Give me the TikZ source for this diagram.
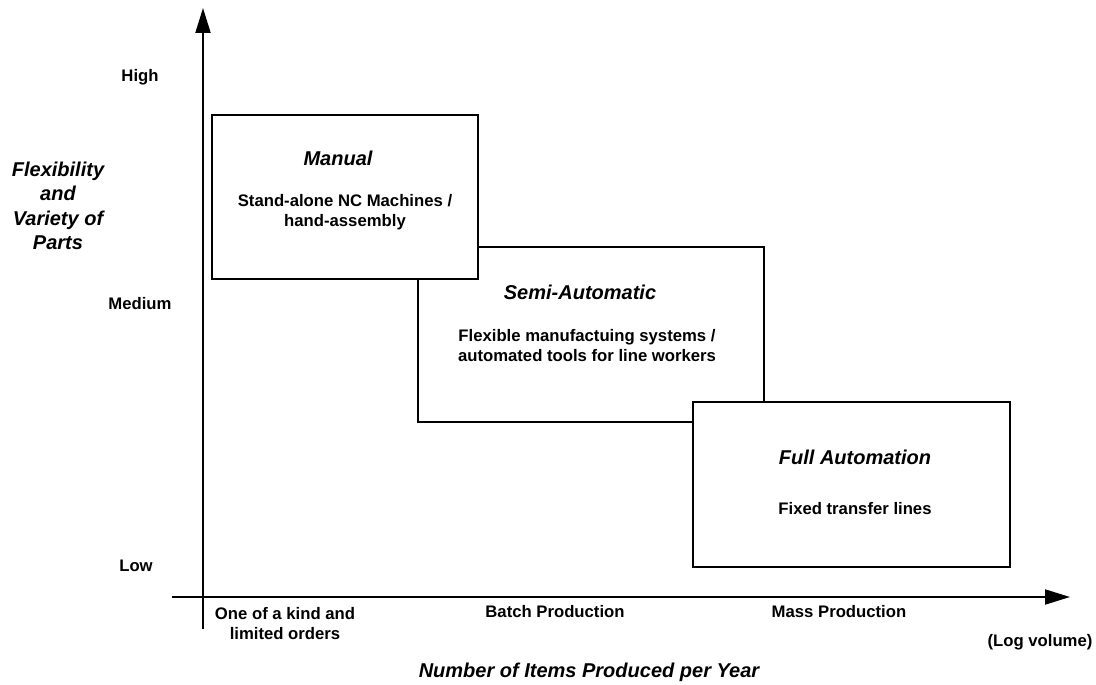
\documentclass[tikz,border=0pt]{standalone}
\usepackage{fontspec}
\setmainfont{Liberation Sans}
\usetikzlibrary{arrows.meta}
\begin{document}
\begin{tikzpicture}[x=1pt, y=-1pt,
  axis/.style={line width=2pt, -{Triangle[length=25pt, width=15pt]}},
  zone/.style={draw, line width=1.6pt, fill=white, inner sep=0pt},
  lbl/.style={font=\fontsize{16.7}{20}\selectfont\bfseries, align=center, inner sep=0pt},
  ttl/.style={font=\fontsize{20}{24.5}\selectfont\bfseries\itshape, align=center, inner sep=0pt}]
  \useasboundingbox (0,0) rectangle (1096,685);
  % axes
  \coordinate (yfoot) at (203,629);
  \coordinate (ytip) at (203,8);
  \coordinate (xfoot) at (172,597);
  \coordinate (xtip) at (1070,597);
  \draw[axis] (yfoot) -- (ytip);
  \draw[axis] (xfoot) -- (xtip);
  % zones
  \node[zone, minimum width=346pt, minimum height=175pt] (semi) at (591,334.5) {};
  \node[zone, minimum width=266pt, minimum height=164pt] (manual) at (345,197) {};
  \node[zone, minimum width=317pt, minimum height=165pt] (full) at (851.5,484.5) {};
  \node[ttl] (manualT) at (338,158) {Manual};
  \node[lbl] (manualB) at (345,212) {Stand-alone NC Machines /\\hand-assembly};
  \node[ttl] (semiT) at (580,292) {Semi-Automatic};
  \node[lbl] (semiB) at (587,346) {Flexible manufactuing systems /\\automated tools for line workers};
  \node[ttl] (fullT) at (855,457) {Full Automation};
  \node[lbl] (fullB) at (855,509) {Fixed transfer lines};
  % vertical scale
  \node[ttl] (flex) at (58,206) {Flexibility\\and\\Variety of\\Parts};
  \node[lbl] (high) at (140,77) {High};
  \node[lbl] (medium) at (140,304) {Medium};
  \node[lbl] (low) at (136,566) {Low};
  % horizontal scale
  \node[lbl] (one) at (285,624) {One of a kind and\\limited orders};
  \node[lbl] (batch) at (555,612) {Batch Production};
  \node[lbl] (mass) at (839,612) {Mass Production};
  \node[lbl] (logv) at (1040,642) {(Log volume)};
  \node[ttl] (items) at (589,672) {Number of Items Produced per Year};
\end{tikzpicture}
\end{document}
